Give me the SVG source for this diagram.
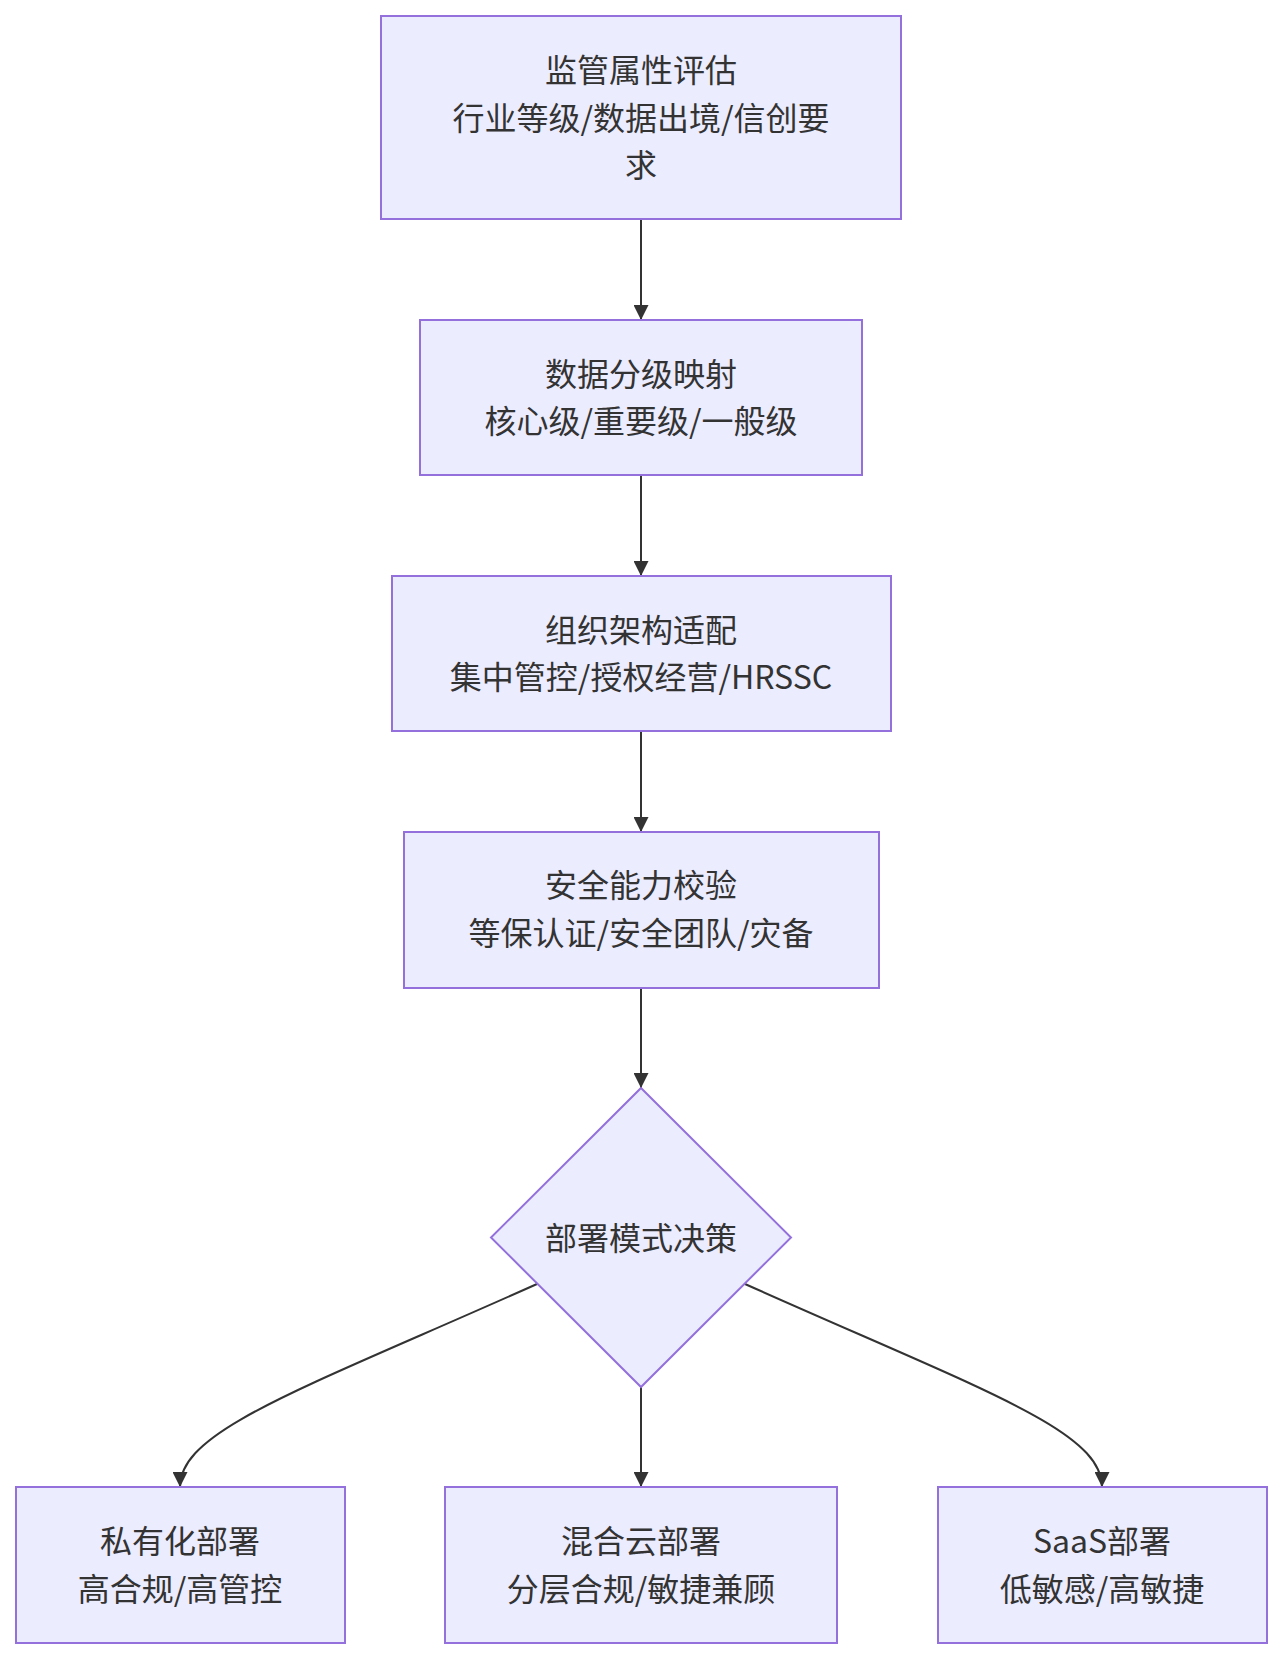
<svg xmlns="http://www.w3.org/2000/svg" width="1282" height="1660" viewBox="0 0 1282 1660">
<style>
.node rect,.node polygon{fill:#ECECFF;stroke:#9370DB;stroke-width:2}
.node text{font-family:"Noto Sans CJK SC","Noto Sans",sans-serif;font-size:32px;fill:#333;text-anchor:middle;dominant-baseline:central}
.edge{fill:none;stroke:#333;stroke-width:2}
</style>
<defs>
<marker id="arrow" viewBox="0 0 10 10" refX="10" refY="5" markerWidth="7.5" markerHeight="7.5" markerUnits="strokeWidth" orient="auto">
<path d="M0,0 L10,5 L0,10 z" fill="#333"/>
</marker>
</defs>
<rect width="1282" height="1660" fill="#fff"/>
<g id="connectors">
<path class="edge" d="M641,219 L641,320" marker-end="url(#arrow)"/>
<path class="edge" d="M641,475 L641,576" marker-end="url(#arrow)"/>
<path class="edge" d="M641,731 L641,832" marker-end="url(#arrow)"/>
<path class="edge" d="M641,988 L641,1088" marker-end="url(#arrow)"/>
<path class="edge" d="M537,1284 C300,1390 180,1430 180,1487" marker-end="url(#arrow)"/>
<path class="edge" d="M641,1387 L641,1487" marker-end="url(#arrow)"/>
<path class="edge" d="M745,1284 C982,1390 1102,1430 1102,1487" marker-end="url(#arrow)"/>
</g>
<g id="n1" class="node">
<rect x="381" y="16" width="520" height="203"/>
<text x="641" y="68">监管属性评估</text>
<text x="641" y="115.5">行业等级/数据出境/信创要</text>
<text x="641" y="163">求</text>
</g>
<g id="n2" class="node">
<rect x="420" y="320" width="442" height="155"/>
<text x="641" y="372">数据分级映射</text>
<text x="641" y="419">核心级/重要级/一般级</text>
</g>
<g id="n3" class="node">
<rect x="392" y="576" width="499" height="155"/>
<text x="641" y="628">组织架构适配</text>
<text x="641" y="675">集中管控/授权经营/HRSSC</text>
</g>
<g id="n4" class="node">
<rect x="404" y="832" width="475" height="156"/>
<text x="641" y="883">安全能力校验</text>
<text x="641" y="931">等保认证/安全团队/灾备</text>
</g>
<g id="n5" class="node">
<polygon points="641,1088 791,1237.5 641,1387 491,1237.5"/>
<text x="641" y="1235.5">部署模式决策</text>
</g>
<g id="n6" class="node">
<rect x="16" y="1487" width="329" height="156"/>
<text x="180" y="1539">私有化部署</text>
<text x="180" y="1587">高合规/高管控</text>
</g>
<g id="n7" class="node">
<rect x="445" y="1487" width="392" height="156"/>
<text x="641" y="1539">混合云部署</text>
<text x="641" y="1587">分层合规/敏捷兼顾</text>
</g>
<g id="n8" class="node">
<rect x="938" y="1487" width="329" height="156"/>
<text x="1102" y="1539">SaaS部署</text>
<text x="1102" y="1587">低敏感/高敏捷</text>
</g>
</svg>
